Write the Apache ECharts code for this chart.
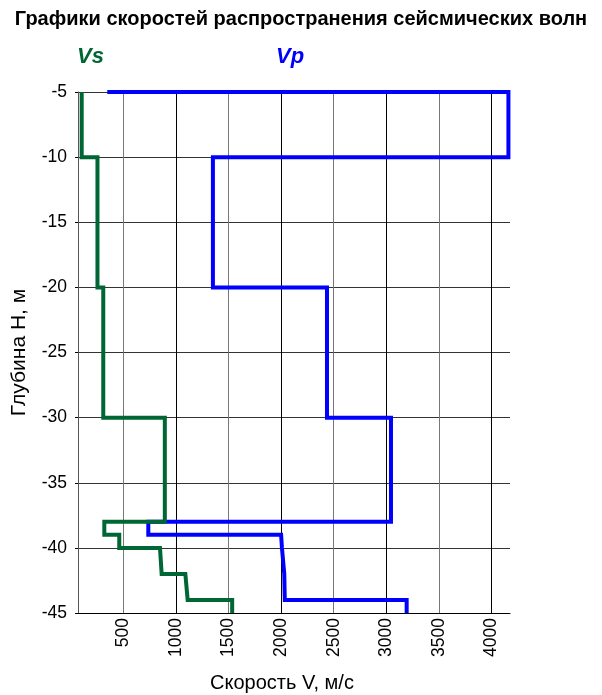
<!DOCTYPE html>
<html>
<head>
<meta charset="utf-8">
<script src="https://cdn.jsdelivr.net/npm/echarts@6/dist/echarts.min.js"></script>
<style>
  html, body { margin: 0; padding: 0; background: #fff; overflow: hidden; }
  #chart { width: 602px; height: 695px; }
</style>
</head>
<body>
<div id="chart"></div>
<script>
// Seismic wave velocity profiles: velocity (m/s) vs depth (m)
const vsVelocity = [105, 105, 255, 255, 310, 310, 895, 895, 320, 320, 462, 462, 849, 865, 1090, 1112, 1535, 1535];
const vsDepth    = [-5, -10, -10, -20, -20, -30, -30, -38, -38, -39, -39, -40, -40, -42, -42, -44, -44, -45];

const vpVelocity = [348, 4160, 4160, 1352, 1352, 2436, 2436, 3044, 3044, 738, 738, 2000, 2008, 2030, 2035, 3193, 3193];
const vpDepth    = [-5, -5, -10, -10, -20, -20, -30, -30, -38, -38, -39, -39, -40, -42, -44, -44, -45];

const depthMin = -45, depthMax = -5, depthStep = 5;
const velMin = 70, velMax = 4175, velStep = 500;

const titleText = 'Графики скоростей распространения сейсмических волн';
const xName = 'Скорость V, м/с';
const yName = 'Глубина Н, м';

function pairs(xs, ys) { return xs.map((x, i) => [x, ys[i]]); }

const chart = echarts.init(document.getElementById('chart'), null, { renderer: 'canvas' });
const font = 'Liberation Sans, Arial, sans-serif';

chart.setOption({
  animation: false,
  backgroundColor: '#ffffff',
  graphic: [
    { type: 'text', left: 'center', top: 9,
      style: { text: titleText, font: 'bold 20px ' + font, fill: '#000' } },
    { type: 'text', left: 77, top: 46,
      style: { text: 'Vs', font: 'italic bold 22px ' + font, fill: '#006633' } },
    { type: 'text', left: 276, top: 46,
      style: { text: 'Vp', font: 'italic bold 22px ' + font, fill: '#0000ff' } }
  ],
  grid: { left: 78, right: 92, top: 92, bottom: 82, containLabel: false, outerBoundsMode: 'none' },
  xAxis: {
    type: 'value',
    min: velMin, max: velMax,
    minInterval: velStep, maxInterval: velStep,
    name: xName, nameLocation: 'middle', nameGap: 60,
    nameTextStyle: { fontFamily: font, fontSize: 20, color: '#000', padding: [0, 24, 0, 0] },
    axisLine: { show: true, onZero: false, lineStyle: { color: '#000', width: 1 } },
    axisTick: { show: false },
    axisLabel: { rotate: 90, margin: 5, fontFamily: font, fontSize: 17.5, color: '#000',
                 showMinLabel: false, showMaxLabel: false,
                 formatter: v => String(v) },
    splitLine: { show: true, showMinLine: false, showMaxLine: false,
                 lineStyle: { color: ['#777', '#000'], width: 1 } }
  },
  yAxis: {
    type: 'value',
    min: depthMin, max: depthMax, interval: depthStep,
    name: yName, nameLocation: 'middle', nameGap: 48, nameRotate: 90,
    nameTextStyle: { fontFamily: font, fontSize: 21, color: '#000' },
    axisLine: { show: true, onZero: false, lineStyle: { color: '#555', width: 1 } },
    axisTick: { show: true, length: 3, lineStyle: { color: '#000' } },
    axisLabel: { margin: 11, fontFamily: font, fontSize: 17.5, color: '#000',
                 formatter: v => String(v) },
    splitLine: { show: true, lineStyle: { color: '#333', width: 1 } }
  },
  series: [
    { name: 'Vp', type: 'line', data: pairs(vpVelocity, vpDepth), showSymbol: false,
      symbol: 'none', lineStyle: { color: '#0000ff', width: 4, join: 'miter', cap: 'butt' }, z: 2 },
    { name: 'Vs', type: 'line', data: pairs(vsVelocity, vsDepth), showSymbol: false,
      symbol: 'none', lineStyle: { color: '#006633', width: 4, join: 'miter', cap: 'butt' }, z: 3 }
  ]
});
</script>
</body>
</html>
